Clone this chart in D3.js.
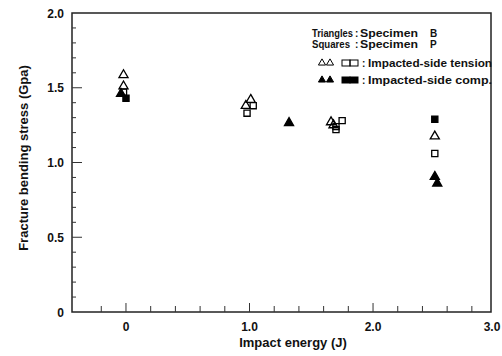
<!DOCTYPE html>
<html><head><meta charset="utf-8">
<script src="https://cdn.jsdelivr.net/npm/d3@7"></script>
<style>body{margin:0;background:#fff}svg{display:block}text{font-family:"Liberation Sans",Arial,sans-serif;font-weight:bold;fill:#111}</style>
</head><body><svg id="c" width="502" height="356"></svg>
<script>
// Data
const xMajorTicks = [0, 1, 2, 3];
const xTickLabels = ["0", "1.0", "2.0", "3.0"];
const xMinorTicks = [-0.2, 0.2, 0.4, 0.6, 0.8, 1.2, 1.4, 1.6, 1.8, 2.2, 2.4, 2.6, 2.8];
const yMajorTicks = [0, 0.5, 1.0, 1.5, 2.0];
const yTickLabels = ["0", "0.5", "1.0", "1.5", "2.0"];
const yMinorTicks = [0.1,0.2,0.3,0.4,0.6,0.7,0.8,0.9,1.1,1.2,1.3,1.4,1.6,1.7,1.8,1.9];

// Specimen B, impacted-side tension (open triangles)
const openTriX = [-0.02, -0.02, 1.01, 0.97, 1.66, 1.68, 2.50];
const openTriY = [1.585, 1.51, 1.42, 1.38, 1.27, 1.25, 1.175];
// Specimen P, impacted-side tension (open squares)
const openSqX = [-0.02, 1.03, 0.98, 1.70, 1.70, 1.75, 2.50];
const openSqY = [1.47, 1.38, 1.33, 1.24, 1.22, 1.28, 1.06];
// Specimen B, impacted-side compression (filled triangles)
const fillTriX = [-0.04, 1.32, 2.50, 2.52];
const fillTriY = [1.46, 1.265, 0.905, 0.86];
// Specimen P, impacted-side compression (filled squares)
const fillSqX = [0.00, 2.50];
const fillSqY = [1.43, 1.29];

const svg = d3.select("#c");
const L = 72, R = 491, T = 13, B = 312;
const x = d3.scaleLinear().domain([-0.437, 2.955]).range([L, R]);
const y = d3.scaleLinear().domain([0, 2.0]).range([B, T]);
const ink = "#222";

// frame
svg.append("rect").attr("x", L).attr("y", T).attr("width", R - L).attr("height", B - T)
  .attr("fill", "none").attr("stroke", ink).attr("stroke-width", 1.5);

// ticks (inward)
const tk = svg.append("g").attr("stroke", "#333").attr("stroke-width", 1);
xMinorTicks.forEach(v => tk.append("line").attr("x1", x(v)).attr("x2", x(v)).attr("y1", B).attr("y2", B - 6));
xMajorTicks.filter(v => v < 2.9).forEach(v => tk.append("line").attr("x1", x(v)).attr("x2", x(v)).attr("y1", B).attr("y2", B - 9));
yMinorTicks.forEach(v => tk.append("line").attr("x1", L).attr("x2", L + 4).attr("y1", y(v)).attr("y2", y(v)));
yMajorTicks.filter(v => v > 0 && v < 2).forEach(v => tk.append("line").attr("x1", L).attr("x2", L + 10).attr("y1", y(v)).attr("y2", y(v)));

// tick labels
xMajorTicks.forEach((v, i) => svg.append("text").attr("x", i === 3 ? 492 : x(v)).attr("y", 331)
  .attr("text-anchor", "middle").attr("font-size", 12).text(xTickLabels[i]));
yMajorTicks.forEach((v, i) => svg.append("text").attr("x", 64).attr("y", y(v) + 4.5)
  .attr("text-anchor", "end").attr("font-size", 12).text(yTickLabels[i]));

// axis titles
svg.append("text").attr("x", 293).attr("y", 347).attr("text-anchor", "middle").attr("font-size", 13)
  .text("Impact energy (J)");
svg.append("text").attr("transform", "translate(28,158) rotate(-90)").attr("text-anchor", "middle")
  .attr("font-size", 13).text("Fracture bending stress (Gpa)");

// markers
const tri = d3.symbol().type(d3.symbolTriangle).size(36);
const sq = d3.symbol().type(d3.symbolSquare).size(38);
function plot(xs, ys, sym, filled) {
  svg.append("g").selectAll("path").data(xs.map((d, i) => [d, ys[i]])).join("path")
    .attr("d", sym).attr("transform", d => `translate(${x(d[0])},${y(d[1])})`)
    .attr("fill", filled ? "#000" : "#fff").attr("fill-opacity", filled ? 1 : 0)
    .attr("stroke", "#000").attr("stroke-width", 1.3);
}
plot(openSqX, openSqY, sq, false);
plot(openTriX, openTriY, tri, false);
plot(fillTriX, fillTriY, tri, true);
plot(fillSqX, fillSqY, sq, true);

// legend
const lg = svg.append("g").attr("font-size", 10);
function word(xx, yy, t, len) {
  const e = lg.append("text").attr("x", xx).attr("y", yy).text(t);
  if (len) e.attr("textLength", len).attr("lengthAdjust", "spacingAndGlyphs");
}
word(312, 36.5, "Triangles", 41); word(355, 36.5, ":"); word(360, 36.5, "Specimen", 58); word(430, 36.5, "B");
word(312, 47.5, "Squares", 38);   word(355, 47.5, ":"); word(360, 47.5, "Specimen", 58); word(430, 47.5, "P");

const lgTri = d3.symbol().type(d3.symbolTriangle).size(22);
function legendRow(yy, filled, label) {
  [322, 330].forEach(cx => lg.append("path").attr("d", lgTri).attr("transform", `translate(${cx},${yy})`)
    .attr("fill", filled ? "#000" : "none").attr("stroke", "#000").attr("stroke-width", 1));
  [342, 350].forEach(cx => lg.append("rect").attr("x", cx).attr("y", yy - 3).attr("width", 8).attr("height", 6)
    .attr("fill", filled ? "#000" : "none").attr("stroke", "#000").attr("stroke-width", 1));
  lg.append("text").attr("x", 362).attr("y", yy + 3.5).text(":");
  lg.append("text").attr("x", 368).attr("y", yy + 3.5).attr("textLength", 124)
    .attr("lengthAdjust", "spacingAndGlyphs").text(label);
}
legendRow(63, false, "Impacted-side tension");
legendRow(80, true, "Impacted-side comp.");
</script></body></html>
